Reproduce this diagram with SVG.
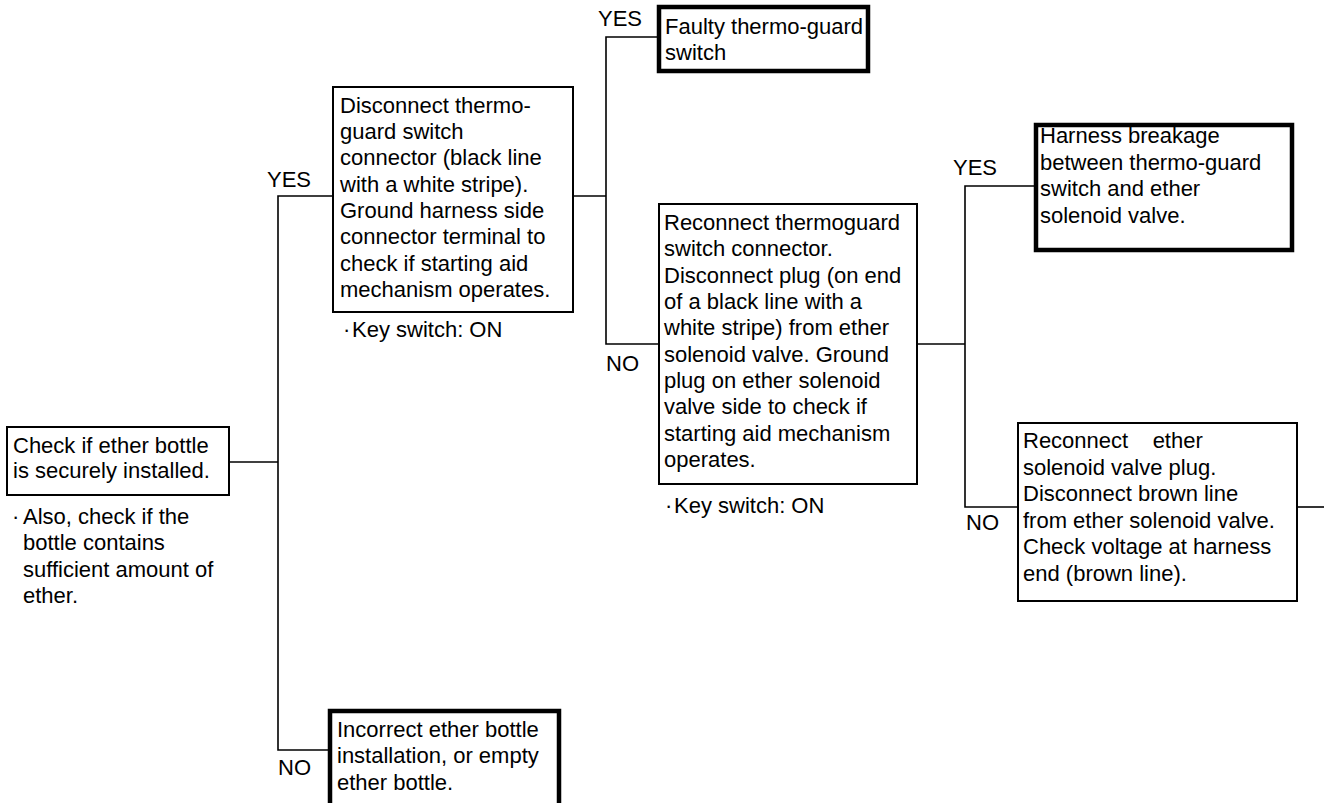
<svg xmlns="http://www.w3.org/2000/svg" width="1324" height="803" viewBox="0 0 1324 803">
<style>
text{font-family:"Liberation Sans",Arial,sans-serif;font-size:22px;fill:#000;white-space:pre}
.box{fill:#fff;stroke:#000;stroke-width:2}
.tbox{fill:#fff;stroke:#000;stroke-width:4.5}
.con{fill:none;stroke:#000;stroke-width:1.6}
</style>
<rect width="1324" height="803" fill="#fff"/>
<g id="connectors">
<polyline class="con" points="229,462 278,462"/>
<polyline class="con" points="333,196 278,196 278,750 330,750"/>
<polyline class="con" points="573,196 606,196"/>
<polyline class="con" points="659,37 606,37 606,344 659,344"/>
<polyline class="con" points="917,344 965,344"/>
<polyline class="con" points="1034,186 965,186 965,507 1018,507"/>
<polyline class="con" points="1297,507 1324,507"/>
</g>
<g id="labels">
<text x="267" y="187">YES</text>
<text x="278" y="775">NO</text>
<text x="598" y="26">YES</text>
<text x="606" y="371">NO</text>
<text x="953" y="175">YES</text>
<text x="966" y="530">NO</text>
</g>
<g id="n1">
<rect class="box" x="7" y="427" width="222" height="68"/>
<text x="13" y="453">Check if ether bottle</text>
<text x="13" y="478">is securely installed.</text>
</g>
<g id="n1note">
<text x="12" y="524">·</text>
<text x="23" y="524">Also, check if the</text>
<text x="23" y="550">bottle contains</text>
<text x="23" y="577">sufficient amount of</text>
<text x="23" y="603">ether.</text>
</g>
<g id="n2">
<rect class="box" x="333" y="87" width="240" height="225"/>
<text x="340" y="113">Disconnect thermo-</text>
<text x="340" y="139">guard switch</text>
<text x="340" y="165">connector (black line</text>
<text x="340" y="192">with a white stripe).</text>
<text x="340" y="218">Ground harness side</text>
<text x="340" y="244">connector terminal to</text>
<text x="340" y="271">check if starting aid</text>
<text x="340" y="297">mechanism operates.</text>
<text x="343" y="337">·</text>
<text x="352" y="337">Key switch: ON</text>
</g>
<g id="n3">
<rect class="tbox" x="659" y="7" width="209" height="64"/>
<text x="665" y="34">Faulty thermo-guard</text>
<text x="665" y="60">switch</text>
</g>
<g id="n4">
<rect class="box" x="659" y="204" width="258" height="280"/>
<text x="664" y="230">Reconnect thermoguard</text>
<text x="664" y="256">switch connector.</text>
<text x="664" y="283">Disconnect plug (on end</text>
<text x="664" y="309">of a black line with a</text>
<text x="664" y="335">white stripe) from ether</text>
<text x="664" y="362">solenoid valve. Ground</text>
<text x="664" y="388">plug on ether solenoid</text>
<text x="664" y="414">valve side to check if</text>
<text x="664" y="441">starting aid mechanism</text>
<text x="664" y="467">operates.</text>
<text x="665" y="513">·</text>
<text x="674" y="513">Key switch: ON</text>
</g>
<g id="n5">
<rect class="tbox" x="1036" y="125" width="256" height="125"/>
<text x="1040" y="143">Harness breakage</text>
<text x="1040" y="170">between thermo-guard</text>
<text x="1040" y="196">switch and ether</text>
<text x="1040" y="223">solenoid valve.</text>
</g>
<g id="n6">
<rect class="box" x="1018" y="423" width="279" height="178"/>
<text x="1023" y="448">Reconnect    ether</text>
<text x="1023" y="475">solenoid valve plug.</text>
<text x="1023" y="501">Disconnect brown line</text>
<text x="1023" y="528">from ether solenoid valve.</text>
<text x="1023" y="554">Check voltage at harness</text>
<text x="1023" y="581">end (brown line).</text>
</g>
<g id="n7">
<rect class="tbox" x="330" y="711" width="229" height="100"/>
<text x="337" y="737">Incorrect ether bottle</text>
<text x="337" y="763">installation, or empty</text>
<text x="337" y="790">ether bottle.</text>
</g>
</svg>
